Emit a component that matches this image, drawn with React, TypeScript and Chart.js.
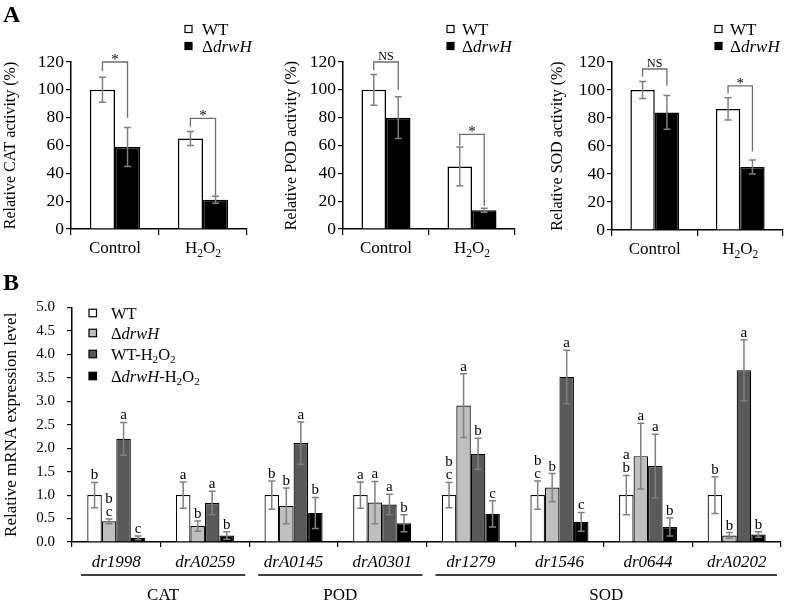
import React, { useEffect, useRef } from 'react';
import { Chart, registerables } from 'chart.js';
Chart.register(...registerables);

const SERIF = '"Liberation Serif", "Times New Roman", Times, serif';

// ---------------- Panel A data ----------------
const conditionsA = ['Control', 'H_2O_2'];
const seriesA = ['WT', 'Δ*drwH*'];

const catWT = [100, 65];
const catWTErr = [9, 5];
const catKO = [59, 21];
const catKOErr = [14, 2.5];
const catBrTop = [120, 79.5];
const catBrLeft = [113.5, 73.5];
const catBrRight = [80, 24];
const catBrLabel = ['*', '*'];

const podWT = [100, 45];
const podWTErr = [11, 14];
const podKO = [80, 13.5];
const podKOErr = [15, 1.5];
const podBrTop = [120, 68];
const podBrLeft = [114, 60];
const podBrRight = [100, 16.5];
const podBrLabel = ['NS', '*'];

const sodWT = [100, 86.5];
const sodWTErr = [6, 8];
const sodKO = [84, 45];
const sodKOErr = [12, 5];
const sodBrTop = [115, 103];
const sodBrLeft = [109.5, 97.5];
const sodBrRight = [103, 56];
const sodBrLabel = ['NS', '*'];

const yTicksA = { min: 0, max: 120, step: 20 };

// ---------------- Panel B data ----------------
const genes = ['dr1998', 'drA0259', 'drA0145', 'drA0301', 'dr1279', 'dr1546', 'dr0644', 'drA0202'];
const seriesB = ['WT', 'Δ*drwH*', 'WT-H_2O_2', 'Δ*drwH*-H_2O_2'];
const bWT = [1.0, 1.0, 1.0, 1.0, 1.0, 1.0, 1.0, 1.0];
const bWTErr = [0.27, 0.28, 0.3, 0.28, 0.27, 0.3, 0.42, 0.39];
const bKO = [0.44, 0.34, 0.77, 0.84, 2.91, 1.16, 1.83, 0.14];
const bKOErr = [0.05, 0.11, 0.38, 0.45, 0.68, 0.3, 0.7, 0.06];
const bWTH = [2.2, 0.83, 2.11, 0.8, 1.88, 3.52, 1.62, 3.66];
const bWTHErr = [0.35, 0.25, 0.45, 0.22, 0.33, 0.57, 0.68, 0.65];
const bKOH = [0.09, 0.14, 0.62, 0.4, 0.6, 0.43, 0.32, 0.16];
const bKOHErr = [0.04, 0.08, 0.33, 0.18, 0.28, 0.2, 0.19, 0.06];
const lettersWT = ['b', 'a', 'b', 'a', 'bc', 'bc', 'ab', 'b'];
const lettersKO = ['bc', 'b', 'b', 'a', 'a', 'b', 'a', 'b'];
const lettersWTH = ['a', 'a', 'a', 'a', 'b', 'a', 'a', 'a'];
const lettersKOH = ['c', 'b', 'b', 'b', 'c', 'c', 'b', 'b'];
const enzymeGroups = ['CAT', 'POD', 'SOD'];
const enzymeGroupStart = [0, 2, 4];
const enzymeGroupEnd = [1, 3, 7];
const yTicksB = { min: 0, max: 5, step: 0.5 };

// ---------------- helpers ----------------
type Seg = { t: string; italic: boolean; sub: boolean };
function parseRich(s: string): Seg[] {
  const segs: Seg[] = [];
  let italic = false;
  let buf = '';
  let i = 0;
  while (i < s.length) {
    const c = s[i];
    if (c === '*') {
      if (buf) segs.push({ t: buf, italic, sub: false });
      buf = '';
      italic = !italic;
      i++;
      continue;
    }
    if (c === '_') {
      if (buf) segs.push({ t: buf, italic, sub: false });
      buf = '';
      segs.push({ t: s[i + 1], italic, sub: true });
      i += 2;
      continue;
    }
    buf += c;
    i++;
  }
  if (buf) segs.push({ t: buf, italic, sub: false });
  return segs;
}
function fontStr(size: number, italic = false, bold = false) {
  return `${italic ? 'italic ' : ''}${bold ? 'bold ' : ''}${size}px ${SERIF}`;
}
function drawRich(ctx: CanvasRenderingContext2D, s: string, x: number, y: number, size: number, align: 'left' | 'center') {
  const segs = parseRich(s);
  const widths = segs.map((g) => {
    ctx.font = fontStr(g.sub ? size * 0.68 : size, g.italic);
    return ctx.measureText(g.t).width;
  });
  const total = widths.reduce((a, b) => a + b, 0);
  let cx = align === 'center' ? x - total / 2 : x;
  ctx.textAlign = 'left';
  ctx.textBaseline = 'alphabetic';
  ctx.fillStyle = '#000';
  segs.forEach((g, k) => {
    ctx.font = fontStr(g.sub ? size * 0.68 : size, g.italic);
    ctx.fillText(g.t, cx, g.sub ? y + size * 0.22 : y);
    cx += widths[k];
  });
}
function drawErrorBars(chart: any, errs: number[][], cap: number) {
  const ctx = chart.ctx as CanvasRenderingContext2D;
  const ys = chart.scales.y;
  ctx.save();
  ctx.strokeStyle = '#808080';
  ctx.lineWidth = 1.5;
  chart.data.datasets.forEach((ds: any, di: number) => {
    const meta = chart.getDatasetMeta(di);
    meta.data.forEach((el: any, j: number) => {
      const v = ds.data[j] as number;
      const e = errs[di][j];
      const y1 = ys.getPixelForValue(v + e);
      const y2 = ys.getPixelForValue(Math.max(0, v - e));
      ctx.beginPath();
      ctx.moveTo(el.x, y1);
      ctx.lineTo(el.x, y2);
      ctx.moveTo(el.x - cap, y1);
      ctx.lineTo(el.x + cap, y1);
      ctx.moveTo(el.x - cap, y2);
      ctx.lineTo(el.x + cap, y2);
      ctx.stroke();
    });
  });
  ctx.restore();
}
function drawBox(ctx: CanvasRenderingContext2D, x: number, yc: number, size: number, fill: string) {
  ctx.fillStyle = fill;
  ctx.fillRect(x, yc - size / 2, size, size);
  ctx.strokeStyle = '#000';
  ctx.lineWidth = 1.2;
  ctx.strokeRect(x, yc - size / 2, size, size);
}

// ---------------- Panel A chart ----------------
interface SpecA {
  left: number; width: number; height: number;
  areaLeft: number; areaRight: number; areaTop: number; areaBottom: number;
  titleX: number; yTitle: string;
  wt: number[]; wtErr: number[]; ko: number[]; koErr: number[];
  brTop: number[]; brLeft: number[]; brRight: number[]; brLabel: string[];
  boxX: number; textX: number; letter?: string;
}

function makeA(canvas: HTMLCanvasElement, sp: SpecA) {
  const titleSize = 16;
  const lh = titleSize * 1.2;
  const titlePad = 1;
  const padLeft = Math.max(0, sp.titleX - sp.left - lh / 2 - titlePad);
  const yW = sp.areaLeft - sp.left - padLeft;
  const padRight = sp.left + sp.width - sp.areaRight;
  const xH = sp.height - sp.areaBottom;
  const plugin = {
    id: 'annotA',
    afterDatasetsDraw(chart: any) {
      drawErrorBars(chart, [sp.wtErr, sp.koErr], 3.5);
    },
    afterDraw(chart: any) {
      const ctx = chart.ctx as CanvasRenderingContext2D;
      const xs = chart.scales.x;
      const ys = chart.scales.y;
      // x labels
      conditionsA.forEach((lab, i) => {
        drawRich(ctx, lab, xs.getPixelForValue(i), sp.areaBottom + 24, 17, 'center');
      });
      // brackets
      const m0 = chart.getDatasetMeta(0);
      const m1 = chart.getDatasetMeta(1);
      ctx.save();
      ctx.strokeStyle = '#6e6e6e';
      ctx.lineWidth = 1.3;
      sp.brTop.forEach((t, i) => {
        const x1 = m0.data[i].x;
        const x2 = m1.data[i].x;
        const yt = ys.getPixelForValue(t);
        ctx.beginPath();
        ctx.moveTo(x1, ys.getPixelForValue(sp.brLeft[i]));
        ctx.lineTo(x1, yt);
        ctx.lineTo(x2, yt);
        ctx.lineTo(x2, ys.getPixelForValue(sp.brRight[i]));
        ctx.stroke();
        const lab = sp.brLabel[i];
        ctx.fillStyle = '#000';
        ctx.textAlign = 'center';
        ctx.textBaseline = 'alphabetic';
        ctx.font = fontStr(lab === '*' ? 15 : 12);
        ctx.fillText(lab, (x1 + x2) / 2, lab === '*' ? yt + 2 : yt - 2);
      });
      ctx.restore();
      // legend
      const rows = [29, 46];
      const fills = ['#fff', '#000'];
      seriesA.forEach((s, i) => {
        drawBox(ctx, sp.boxX - sp.left, rows[i], 7, fills[i]);
        drawRich(ctx, s, sp.textX - sp.left, rows[i] + 5.5, 17, 'left');
      });
      if (sp.letter) {
        ctx.fillStyle = '#000';
        ctx.textAlign = 'left';
        ctx.textBaseline = 'alphabetic';
        ctx.font = fontStr(24, false, true);
        ctx.fillText(sp.letter, 3, 22);
      }
    },
  };
  return new Chart(canvas, {
    type: 'bar',
    data: {
      labels: conditionsA,
      datasets: [
        { label: 'WT', data: sp.wt, backgroundColor: '#ffffff', borderColor: '#000', borderWidth: 1.5 },
        { label: 'drwH', data: sp.ko, backgroundColor: '#000000', borderColor: '#000', borderWidth: 1.5 },
      ],
    },
    options: {
      responsive: false,
      animation: false,
      devicePixelRatio: 1,
      layout: { padding: { left: padLeft, right: padRight, top: sp.areaTop, bottom: 0 } },
      plugins: { legend: { display: false }, tooltip: { enabled: false } },
      datasets: { bar: { categoryPercentage: 0.57, barPercentage: 1 } },
      scales: {
        x: {
          type: 'category',
          offset: true,
          grid: { offset: true, drawOnChartArea: false, drawTicks: true, tickLength: 6, color: '#000', lineWidth: 1.2 },
          border: { color: '#000', width: 1.5 },
          ticks: { display: false },
          afterFit: (s: any) => { s.height = xH; },
        },
        y: {
          min: yTicksA.min,
          max: yTicksA.max,
          ticks: { stepSize: yTicksA.step, font: { family: SERIF, size: 17.5 }, color: '#000', padding: 2 },
          grid: { drawOnChartArea: false, drawTicks: true, tickLength: 5, color: '#000', lineWidth: 1.2 },
          border: { color: '#000', width: 1.5 },
          title: { display: true, text: sp.yTitle, font: { family: SERIF, size: titleSize }, color: '#000', padding: { top: titlePad, bottom: 0 } },
          afterFit: (s: any) => { s.width = yW; },
        },
      },
    } as any,
    plugins: [plugin],
  });
}

// ---------------- Panel B chart ----------------
const B = { left: 0, top: 262, width: 787, height: 341, areaLeft: 72, areaRight: 781, areaTop: 307.5, areaBottom: 542, titleX: 12 };

function makeB(canvas: HTMLCanvasElement) {
  const titleSize = 17;
  const lh = titleSize * 1.2;
  const titlePad = 1.5;
  const padLeft = Math.max(0, B.titleX - lh / 2 - titlePad);
  const yW = B.areaLeft - padLeft;
  const padTop = B.areaTop - B.top;
  const xH = B.top + B.height - B.areaBottom;
  const ab = B.areaBottom - B.top;
  const letters = [lettersWT, lettersKO, lettersWTH, lettersKOH];
  const errs = [bWTErr, bKOErr, bWTHErr, bKOHErr];
  const fills = ['#ffffff', '#bfbfbf', '#595959', '#000000'];
  const plugin = {
    id: 'annotB',
    afterDatasetsDraw(chart: any) {
      drawErrorBars(chart, errs, 3.5);
    },
    afterDraw(chart: any) {
      const ctx = chart.ctx as CanvasRenderingContext2D;
      const xs = chart.scales.x;
      const ys = chart.scales.y;
      // letters
      ctx.save();
      ctx.fillStyle = '#000';
      ctx.textAlign = 'center';
      ctx.textBaseline = 'alphabetic';
      ctx.font = fontStr(15);
      chart.data.datasets.forEach((ds: any, di: number) => {
        const meta = chart.getDatasetMeta(di);
        meta.data.forEach((el: any, j: number) => {
          const top = ys.getPixelForValue((ds.data[j] as number) + errs[di][j]);
          const str = letters[di][j];
          const n = str.length;
          for (let k = 0; k < n; k++) {
            ctx.fillText(str[k], el.x, top - 3 - (n - 1 - k) * 13);
          }
        });
      });
      ctx.restore();
      // gene labels
      genes.forEach((g, i) => {
        drawRich(ctx, '*' + g + '*', xs.getPixelForValue(i), ab + 25, 17, 'center');
      });
      // enzyme group lines and labels
      const half = (xs.getPixelForValue(1) - xs.getPixelForValue(0)) / 2;
      ctx.save();
      ctx.strokeStyle = '#000';
      ctx.lineWidth = 1.3;
      enzymeGroups.forEach((g, i) => {
        const x1 = xs.getPixelForValue(enzymeGroupStart[i]) - half + 9;
        const x2 = xs.getPixelForValue(enzymeGroupEnd[i]) + half - 4;
        ctx.beginPath();
        ctx.moveTo(x1, ab + 33);
        ctx.lineTo(x2, ab + 33);
        ctx.stroke();
        drawRich(ctx, g, (x1 + x2) / 2, ab + 58, 17, 'center');
      });
      ctx.restore();
      // legend
      const rows = [313, 333, 354, 376];
      seriesB.forEach((s, i) => {
        drawBox(ctx, 89, rows[i] - B.top, 7.5, fills[i]);
        drawRich(ctx, s, 111, rows[i] - B.top + 5.5, 16.5, 'left');
      });
      ctx.fillStyle = '#000';
      ctx.textAlign = 'left';
      ctx.textBaseline = 'alphabetic';
      ctx.font = fontStr(24, false, true);
      ctx.fillText('B', 3, 290 - B.top);
    },
  };
  return new Chart(canvas, {
    type: 'bar',
    data: {
      labels: genes,
      datasets: [
        { label: 'WT', data: bWT, backgroundColor: fills[0], borderColor: '#000', borderWidth: 1.2 },
        { label: 'drwH', data: bKO, backgroundColor: fills[1], borderColor: '#000', borderWidth: 1.2 },
        { label: 'WT-H2O2', data: bWTH, backgroundColor: fills[2], borderColor: '#000', borderWidth: 1.2 },
        { label: 'drwH-H2O2', data: bKOH, backgroundColor: fills[3], borderColor: '#000', borderWidth: 1.2 },
      ],
    },
    options: {
      responsive: false,
      animation: false,
      devicePixelRatio: 1,
      layout: { padding: { left: padLeft, right: B.width - B.areaRight, top: padTop, bottom: 0 } },
      plugins: { legend: { display: false }, tooltip: { enabled: false } },
      datasets: { bar: { categoryPercentage: 0.655, barPercentage: 1 } },
      scales: {
        x: {
          type: 'category',
          offset: true,
          grid: { offset: true, drawOnChartArea: false, drawTicks: true, tickLength: 5, color: '#000', lineWidth: 1.2 },
          border: { color: '#000', width: 1.5 },
          ticks: { display: false },
          afterFit: (s: any) => { s.height = xH; },
        },
        y: {
          min: yTicksB.min,
          max: yTicksB.max,
          ticks: { stepSize: yTicksB.step, font: { family: SERIF, size: 15 }, color: '#000', padding: 12, callback: (v: any) => Number(v).toFixed(1) },
          grid: { drawOnChartArea: false, drawTicks: true, tickLength: 5, color: '#000', lineWidth: 1.2 },
          border: { color: '#000', width: 1.5 },
          title: { display: true, text: 'Relative mRNA expression level', font: { family: SERIF, size: titleSize }, color: '#000', padding: { top: titlePad, bottom: 0 } },
          afterFit: (s: any) => { s.width = yW; },
        },
      },
    } as any,
    plugins: [plugin],
  });
}

const specCAT: SpecA = {
  left: 0, width: 262, height: 262, areaLeft: 71, areaRight: 247, areaTop: 62, areaBottom: 229,
  titleX: 11, yTitle: 'Relative CAT activity (%)',
  wt: catWT, wtErr: catWTErr, ko: catKO, koErr: catKOErr,
  brTop: catBrTop, brLeft: catBrLeft, brRight: catBrRight, brLabel: catBrLabel,
  boxX: 185, textX: 202, letter: 'A',
};
const specPOD: SpecA = {
  left: 262, width: 262, height: 262, areaLeft: 343, areaRight: 515, areaTop: 62, areaBottom: 229,
  titleX: 292, yTitle: 'Relative POD activity (%)',
  wt: podWT, wtErr: podWTErr, ko: podKO, koErr: podKOErr,
  brTop: podBrTop, brLeft: podBrLeft, brRight: podBrRight, brLabel: podBrLabel,
  boxX: 447, textX: 462,
};
const specSOD: SpecA = {
  left: 524, width: 263, height: 262, areaLeft: 612, areaRight: 783, areaTop: 62, areaBottom: 230,
  titleX: 557.5, yTitle: 'Relative SOD activity (%)',
  wt: sodWT, wtErr: sodWTErr, ko: sodKO, koErr: sodKOErr,
  brTop: sodBrTop, brLeft: sodBrLeft, brRight: sodBrRight, brLabel: sodBrLabel,
  boxX: 715, textX: 730,
};

export default function App() {
  const r1 = useRef<HTMLCanvasElement>(null);
  const r2 = useRef<HTMLCanvasElement>(null);
  const r3 = useRef<HTMLCanvasElement>(null);
  const r4 = useRef<HTMLCanvasElement>(null);
  useEffect(() => {
    const charts = [
      makeA(r1.current!, specCAT),
      makeA(r2.current!, specPOD),
      makeA(r3.current!, specSOD),
      makeB(r4.current!),
    ];
    return () => charts.forEach((c) => c.destroy());
  }, []);
  const cs = (l: number, t: number, w: number, h: number): React.CSSProperties => ({
    position: 'absolute', left: l, top: t, width: w, height: h,
  });
  return (
    <div style={{ position: 'fixed', left: 0, top: 0, width: 787, height: 603, background: '#fff', overflow: 'hidden' }}>
      <canvas ref={r1} width={specCAT.width} height={specCAT.height} style={cs(specCAT.left, 0, specCAT.width, specCAT.height)} />
      <canvas ref={r2} width={specPOD.width} height={specPOD.height} style={cs(specPOD.left, 0, specPOD.width, specPOD.height)} />
      <canvas ref={r3} width={specSOD.width} height={specSOD.height} style={cs(specSOD.left, 0, specSOD.width, specSOD.height)} />
      <canvas ref={r4} width={B.width} height={B.height} style={cs(B.left, B.top, B.width, B.height)} />
    </div>
  );
}
